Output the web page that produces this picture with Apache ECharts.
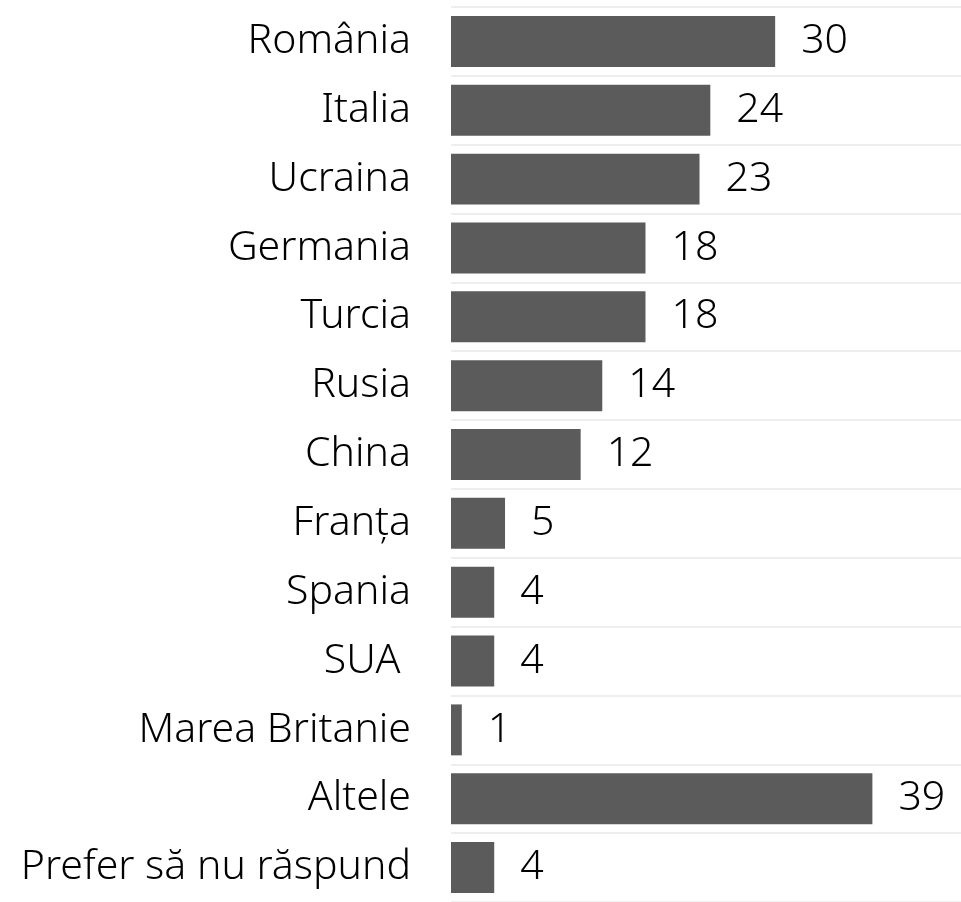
<!DOCTYPE html>
<html>
<head>
<meta charset="utf-8">
<script src="https://cdn.jsdelivr.net/npm/echarts@6/dist/echarts.min.js"></script>
<style>
    html, body { margin: 0; padding: 0; background: #fff; }
    #chart { width: 961px; height: 902px; }
</style>
</head>
<body>
<div id="chart"></div>
<script>
var countries = ['România', 'Italia', 'Ucraina', 'Germania', 'Turcia', 'Rusia', 'China',
    'Franța', 'Spania', 'SUA ', 'Marea Britanie', 'Altele', 'Prefer să nu răspund'];
var values = [30, 24, 23, 18, 18, 14, 12, 5, 4, 4, 1, 39, 4];

var chartDom = document.getElementById('chart');
var myChart = echarts.init(chartDom);

var option = {
    animation: false,
    grid: {
        left: 451,
        right: 0,
        top: 7,
        height: 897
    },
    xAxis: {
        type: 'value',
        min: 0,
        max: 47.2,
        show: false
    },
    yAxis: {
        type: 'category',
        inverse: true,
        data: countries,
        axisLine: { show: false },
        axisTick: { show: false },
        axisLabel: {
            margin: 40,
            color: '#000',
            fontSize: 41,
            fontFamily: 'Noto Sans',
            fontWeight: 300
        },
        splitLine: {
            show: true,
            lineStyle: { color: '#eeeeee', width: 2 }
        }
    },
    series: [
        {
            name: 'Țara',
            type: 'bar',
            data: values,
            barCategoryGap: '26%',
            itemStyle: { color: '#5b5b5b' },
            label: {
                show: true,
                position: 'right',
                distance: 26,
                color: '#000',
                fontSize: 41,
                fontFamily: 'Noto Sans',
                fontWeight: 300
            }
        }
    ]
};
option && myChart.setOption(option);
</script>
</body>
</html>
